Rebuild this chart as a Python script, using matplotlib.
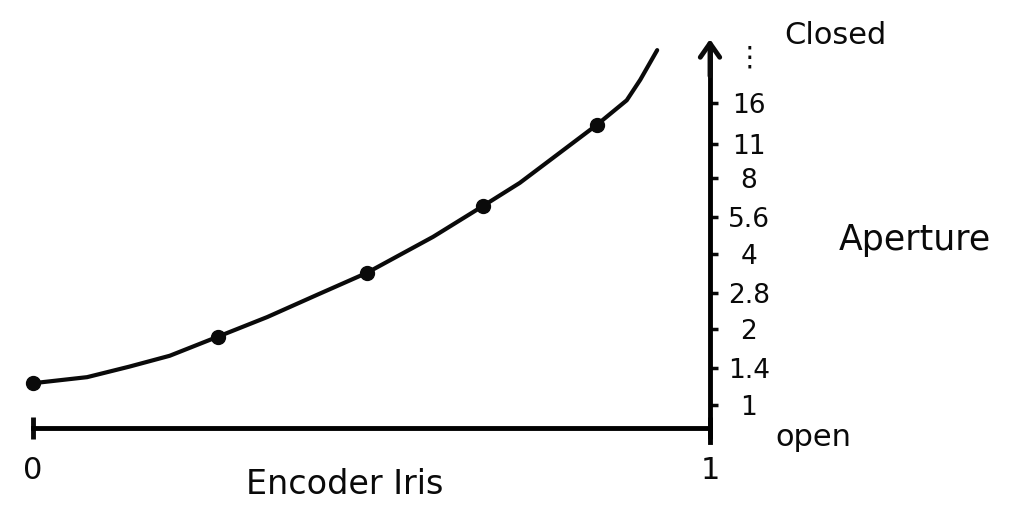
import numpy as np
import matplotlib
matplotlib.use('Agg')
import matplotlib.pyplot as plt

# encoder position (0..1) vs aperture f-number
marked_x = [0.0, 0.273, 0.493, 0.665, 0.833]
marked_f = [1.22, 1.87, 3.36, 6.22, 13.1]

curve_x = [0.0, 0.080, 0.142, 0.202, 0.273, 0.346, 0.420, 0.493,
           0.591, 0.665, 0.719, 0.764, 0.833, 0.877, 0.897, 0.922]
curve_f = [1.22, 1.29, 1.42, 1.57, 1.87, 2.24, 2.75, 3.36,
           4.68, 6.22, 7.68, 9.48, 13.1, 16.4, 19.8, 26.0]

fstops = [1, 1.4, 2, 2.8, 4, 5.6, 8, 11, 16]
fstop_labels = ['1', '1.4', '2', '2.8', '4', '5.6', '8', '11', '16']

ink = '#0a0a0a'
plt.rcParams['font.family'] = ['DejaVu Sans']

fig = plt.figure(figsize=(10.24, 5.31), dpi=100)
ax = fig.add_axes([0, 0, 1, 1])
ax.set_yscale('log', base=2)
ax.set_xlim(-0.0487, 1.4638)
ax.set_ylim(0.314, 41.2)

#the curve and the marked points
ax.plot(curve_x, curve_f, color=ink, lw=3.0, solid_capstyle='round', solid_joinstyle='round')
ax.plot(marked_x, marked_f, 'o', color=ink, ms=10)

#axes: encoder along the bottom, aperture on the right
ax.spines['top'].set_visible(False)
ax.spines['left'].set_visible(False)
ax.spines['bottom'].set_position(('data', 0.81))
ax.spines['bottom'].set_bounds(0, 1)
ax.spines['bottom'].set_linewidth(3.5)
ax.spines['right'].set_position(('data', 1))
ax.spines['right'].set_bounds(0.71, 27)
ax.spines['right'].set_linewidth(3.5)
ax.annotate('', xy=(1, 29.5), xytext=(1, 20),
            arrowprops=dict(arrowstyle='->,head_length=1.0,head_width=0.7', lw=3.5, color=ink))

ax.yaxis.tick_right()
ax.set_yticks(fstops)
ax.set_yticklabels(fstop_labels)
ax.yaxis.set_minor_locator(matplotlib.ticker.NullLocator())
ax.tick_params(axis='y', direction='out', length=6, width=2.5, pad=22, labelsize=19, colors=ink)
for lab in ax.get_yticklabels():
    lab.set_ha('center')

ax.set_xticks([0, 1])
ax.set_xticklabels(['0', '1'])
ax.tick_params(axis='x', direction='inout', length=16, width=3.5, pad=12, labelsize=22, colors=ink)

fig.text(749/1024, 1-58/531, '⋮', ha='center', va='center', fontsize=20, color=ink)
fig.text(835/1024, 1-35/531, 'Closed', ha='center', va='center', fontsize=22, color=ink)
fig.text(813/1024, 1-437/531, 'open', ha='center', va='center', fontsize=22, color=ink)
fig.text(915/1024, 1-240/531, 'Aperture', ha='center', va='center', fontsize=25, color=ink)
fig.text(345/1024, 1-485/531, 'Encoder Iris', ha='center', va='center', fontsize=24, color=ink)

fig.savefig('out.png', dpi=100, facecolor='white')
